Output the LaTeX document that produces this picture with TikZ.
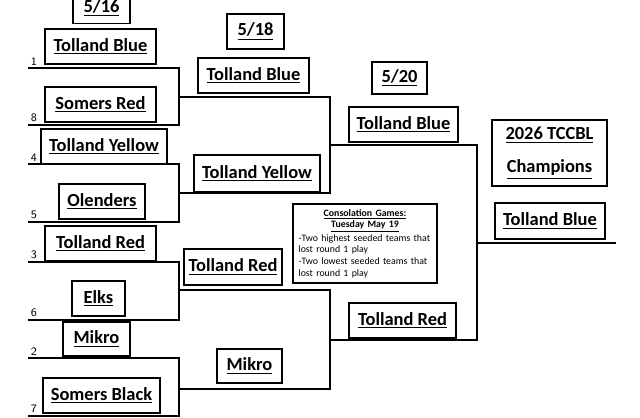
\documentclass[tikz,border=0pt]{standalone}
\usepackage{fontspec}
\setmainfont{Carlito}
\usetikzlibrary{positioning}
\tikzset{
  team/.style={draw,thick,fill=white,inner sep=0pt,font=\bfseries\fontsize{10.5}{12}\selectfont},
  seed/.style={font=\sffamily\fontsize{6.5}{7}\selectfont,anchor=south west,inner sep=1.5pt},
  line/.style={thick}
}
\newcommand{\ul}[1]{\underline{#1}}
\begin{document}
\begin{tikzpicture}[x=0.02cm,y=-0.02cm]
\useasboundingbox (0,0) rectangle (640,418);

% round 1
\coordinate (s1) at (28,68);  \coordinate (s8) at (28,125);
\coordinate (s4) at (28,164); \coordinate (s5) at (28,222);
\coordinate (s3) at (28,262); \coordinate (s6) at (28,320);
\coordinate (s2) at (28,358); \coordinate (s7) at (28,416);
\draw[line] (s1) -- (179,68) -- (179,125) -- (s8);
\draw[line] (s4) -- (179,164) -- (179,222) -- (s5);
\draw[line] (s3) -- (179,262) -- (179,320) -- (s6);
\draw[line] (s2) -- (179,358) -- (179,416) -- (s7);
\foreach \n/\p in {1/s1,8/s8,4/s4,5/s5,3/s3,6/s6,2/s2,7/s7}
  \node[seed] at (\p) {\n};

% round 2
\draw[line] (179,97) -- (330,97) -- (330,193) -- (179,193);
\draw[line] (179,290) -- (330,290) -- (330,389) -- (179,389);
% round 3
\draw[line] (330,145) -- (477,145) -- (477,340) -- (330,340);
\coordinate (fin) at (616,243);
\draw[line] (477,243) -- (fin);

% dates
\node[team,minimum width=1.14cm,minimum height=0.62cm] (d16) at (101.5,8) {\ul{5/16}};
\node[team,minimum width=1.14cm,minimum height=0.7cm] (d18) at (255.5,31.5) {\ul{5/18}};
\node[team,minimum width=1.1cm,minimum height=0.64cm] (d20) at (399.5,78) {\ul{5/20}};

% round 1 teams
\node[team,minimum width=2.22cm,minimum height=0.7cm] (tb1) at (100.5,46.5) {\ul{Tolland Blue}};
\node[team,minimum width=2.22cm,minimum height=0.7cm] (sr1) at (100.5,104.5) {\ul{Somers Red}};
\node[team,minimum width=2.52cm,minimum height=0.7cm] (ty1) at (104,146.5) {\ul{Tolland Yellow}};
\node[team,minimum width=1.72cm,minimum height=0.7cm] (ol1) at (102,201.5) {\ul{Olenders}};
\node[team,minimum width=2.22cm,minimum height=0.7cm] (tr1) at (100.5,243.5) {\ul{Tolland Red}};
\node[team,minimum width=1.06cm,minimum height=0.7cm] (el1) at (98.5,298.5) {\ul{Elks}};
\node[team,minimum width=1.34cm,minimum height=0.68cm] (mk1) at (96.5,339) {\ul{Mikro}};
\node[team,minimum width=2.34cm,minimum height=0.7cm] (sb1) at (101.5,395.5) {\ul{Somers Black}};

% round 2 teams
\node[team,minimum width=2.22cm,minimum height=0.7cm] (tb2) at (253.5,75.5) {\ul{Tolland Blue}};
\node[team,minimum width=2.52cm,minimum height=0.74cm] (ty2) at (257,173.5) {\ul{Tolland Yellow}};
\node[team,minimum width=1.96cm,minimum height=0.72cm] (tr2) at (233,267) {\ul{Tolland Red}};
\node[team,minimum width=1.3cm,minimum height=0.68cm] (mk2) at (249.5,366) {\ul{Mikro}};

% round 3 teams
\node[team,minimum width=2.18cm,minimum height=0.7cm] (tb3) at (403.5,124.5) {\ul{Tolland Blue}};
\node[team,minimum width=2.14cm,minimum height=0.7cm] (tr3) at (402.5,320.5) {\ul{Tolland Red}};

% champions
\node[team,minimum width=2.3cm,minimum height=1.32cm,align=center] (ttl) at (549.5,153)
  {\ul{2026 TCCBL}\\[7pt]\ul{Champions}};
\node[team,minimum width=2.2cm,minimum height=0.72cm] (tb4) at (550,221) {\ul{Tolland Blue}};

% consolation note
\node[draw,thick,fill=white,minimum width=2.88cm,minimum height=1.58cm,text width=2.66cm,
  font=\fontsize{5.6}{6.6}\selectfont,inner sep=3pt] (note) at (365,243.5)
  {{\centering\textbf{\ul{Consolation Games:}}\\\textbf{\ul{Tuesday May 19}}\par}
   \raggedright -Two highest seeded teams that lost round 1 play\\
   -Two lowest seeded teams that lost round 1 play};
\end{tikzpicture}
\end{document}
